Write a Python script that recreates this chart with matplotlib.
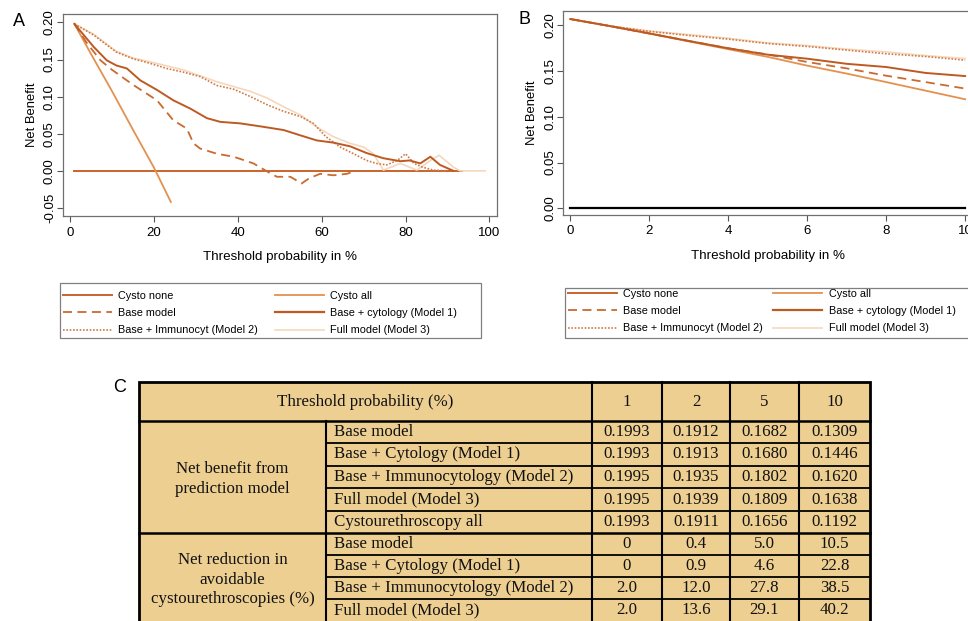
import numpy as np
import matplotlib.pyplot as plt
from matplotlib.patches import Rectangle

plt.rcParams['font.family'] = ['Liberation Sans', 'DejaVu Sans']

# ---- panel A data (threshold %, net benefit) ----
a_none_x = [1, 93.4]
a_none_y = [0.0, 0.0]
a_all_x = [1, 5, 10, 15, 20, 24]
a_all_y = [0.198, 0.157, 0.107, 0.055, 0.004, -0.042]
a_base_x = [1, 4, 7.2, 10, 15.1, 20.7, 24.6, 27.8, 29.4, 31, 35, 39, 43.7, 47, 49.3, 52.5,
            55.2, 57, 59.6, 62.8, 66, 68]
a_base_y = [0.198, 0.172, 0.149, 0.136, 0.1155, 0.095, 0.068, 0.057, 0.037, 0.030, 0.023,
            0.019, 0.010, -0.001, -0.008, -0.008, -0.017, -0.010, -0.004, -0.006, -0.004, 0.0]
a_m1_x = [1, 5.6, 8.7, 11, 13.5, 16.7, 20.7, 24.6, 28.6, 32.6, 35.8, 40.5, 45.3, 50.9, 54.8,
          58.8, 62.8, 66.8, 70.7, 74.7, 78.7, 81, 83.5, 85.9, 88.2, 91.4]
a_m1_y = [0.198, 0.167, 0.149, 0.142, 0.138, 0.122, 0.109, 0.095, 0.084, 0.071, 0.066, 0.064,
          0.060, 0.055, 0.048, 0.041, 0.038, 0.033, 0.024, 0.017, 0.013, 0.014, 0.010, 0.019,
          0.008, 0.0]
a_m2_x = [1, 5.6, 11, 15, 19, 23, 27, 31, 35, 39, 43, 47, 51, 55, 58, 61, 64.4, 67.6, 70.7,
          73, 75.5, 78, 80, 82, 84, 86.6, 90]
a_m2_y = [0.198, 0.183, 0.160, 0.151, 0.145, 0.138, 0.133, 0.127, 0.115, 0.110, 0.100, 0.089,
          0.080, 0.073, 0.064, 0.046, 0.032, 0.023, 0.014, 0.010, 0.008, 0.014, 0.023, 0.010,
          0.005, 0.001, 0.0]
a_full_x = [1, 5.6, 11, 15, 19, 27, 35, 43, 47, 51, 55, 58.8, 62.8, 66.8, 70, 72.3, 74.7,
            78.7, 82.7, 85.9, 88, 91.4, 93, 99]
a_full_y = [0.198, 0.184, 0.161, 0.152, 0.147, 0.136, 0.120, 0.107, 0.098, 0.086, 0.075,
            0.059, 0.046, 0.037, 0.032, 0.023, 0.001, 0.010, 0.001, 0.014, 0.021, 0.005, 0.0, 0.0]

# ---- panel B data ----
b_x = [0, 1, 2, 3, 4, 5, 6, 7, 8, 9, 10]
b_none = [0, 0, 0, 0, 0, 0, 0, 0, 0, 0, 0]
b_all = [0.207, 0.1993, 0.1911, 0.1825, 0.174, 0.1656, 0.156, 0.1473, 0.138, 0.1286, 0.1192]
b_base = [0.207, 0.1993, 0.1912, 0.183, 0.175, 0.1682, 0.160, 0.153, 0.145, 0.138, 0.1309]
b_m1 = [0.207, 0.1993, 0.1913, 0.183, 0.175, 0.1680, 0.1636, 0.158, 0.1545, 0.148, 0.1446]
b_m2 = [0.207, 0.1995, 0.1935, 0.189, 0.185, 0.1802, 0.177, 0.173, 0.169, 0.166, 0.1620]
b_full = [0.207, 0.1995, 0.1939, 0.190, 0.186, 0.1809, 0.178, 0.174, 0.171, 0.167, 0.1638]

legend_labels = ['Cysto none', 'Base model', 'Base + Immunocyt (Model 2)',
                 'Cysto all', 'Base + cytology (Model 1)', 'Full model (Model 3)']

# ---- table data ----
thresholds = ['1', '2', '5', '10']
groups = ['Net benefit from\nprediction model',
          'Net reduction in\navoidable\ncystourethroscopies (%)']
row_labels = ['Base model', 'Base + Cytology (Model 1)', 'Base + Immunocytology (Model 2)',
              'Full model (Model 3)', 'Cystourethroscopy all',
              'Base model', 'Base + Cytology (Model 1)', 'Base + Immunocytology (Model 2)',
              'Full model (Model 3)']
row_values = [['0.1993', '0.1912', '0.1682', '0.1309'],
              ['0.1993', '0.1913', '0.1680', '0.1446'],
              ['0.1995', '0.1935', '0.1802', '0.1620'],
              ['0.1995', '0.1939', '0.1809', '0.1638'],
              ['0.1993', '0.1911', '0.1656', '0.1192'],
              ['0', '0.4', '5.0', '10.5'],
              ['0', '0.9', '4.6', '22.8'],
              ['2.0', '12.0', '27.8', '38.5'],
              ['2.0', '13.6', '29.1', '40.2']]

c_none = '#c8642c'
c_all = '#e3914f'
c_base = '#c96a32'
c_m1 = '#bd5a22'
c_m2 = '#d07a48'
c_full = '#f5d8bc'

fig = plt.figure(figsize=(9.68, 6.21), dpi=100)


def style_axes(ax):
    for s in ax.spines.values():
        s.set_color('#707070')
        s.set_linewidth(0.9)
    ax.tick_params(axis='both', labelsize=9.5, length=4, color='#555555', width=0.8)
    ax.tick_params(axis='y', labelrotation=90, pad=1.0)
    for lab in ax.get_yticklabels():
        lab.set_verticalalignment('center')
    ax.set_xlabel('Threshold probability in %', fontsize=9.6, labelpad=9)
    ax.set_ylabel('Net Benefit', fontsize=9.4, labelpad=4)


# panel A
axA = fig.add_axes([0.065, 0.652, 0.448, 0.325])
axA.plot(a_none_x, a_none_y, color=c_none, lw=1.4)
axA.plot(a_all_x, a_all_y, color=c_all, lw=1.3)
axA.plot(a_full_x, a_full_y, color=c_full, lw=1.2)
axA.plot(a_m2_x, a_m2_y, color=c_m2, lw=1.2, ls=(0, (1, 1)))
axA.plot(a_base_x, a_base_y, color=c_base, lw=1.3, ls=(0, (5, 3)))
axA.plot(a_m1_x, a_m1_y, color=c_m1, lw=1.4)
axA.set_xlim(-1.75, 101.7)
axA.set_ylim(-0.061, 0.211)
axA.set_xticks([0, 20, 40, 60, 80, 100])
axA.set_yticks([-0.05, 0.0, 0.05, 0.10, 0.15, 0.20])
axA.set_yticklabels(['-0.05', '0.00', '0.05', '0.10', '0.15', '0.20'])
style_axes(axA)

# panel B
axB = fig.add_axes([0.5816, 0.654, 0.4236, 0.328])
axB.plot(b_x, b_none, color='black', lw=1.6)
axB.plot(b_x, b_all, color=c_all, lw=1.3)
axB.plot(b_x, b_full, color=c_full, lw=1.2)
axB.plot(b_x, b_m2, color=c_m2, lw=1.2, ls=(0, (1, 1)))
axB.plot(b_x, b_base, color=c_base, lw=1.3, ls=(0, (5, 3)))
axB.plot(b_x, b_m1, color=c_m1, lw=1.4)
axB.set_xlim(-0.186, 10.2)
axB.set_ylim(-0.0073, 0.2156)
axB.set_xticks([0, 2, 4, 6, 8, 10])
axB.set_yticks([0.0, 0.05, 0.10, 0.15, 0.20])
axB.set_yticklabels(['0.00', '0.05', '0.10', '0.15', '0.20'])
style_axes(axB)

fig.text(19 / 968, 1 - 21 / 621, 'A', fontsize=13, ha='center', va='center')
fig.text(524 / 968, 1 - 20 / 621, 'B', fontsize=13, ha='center', va='center')
fig.text(120 / 968, 1 - 388 / 621, 'C', fontsize=13, ha='center', va='center')

# legends: frame drawn separately, entries placed by column spacing
leg_styles = [(c_none, '-', 1.4), (c_base, (0, (5, 3)), 1.3), (c_m2, (0, (1, 1)), 1.2),
              (c_all, '-', 1.3), (c_m1, '-', 1.6), (c_full, '-', 1.2)]
leg_boxes = [(60, 283, 421, 55), (565, 288, 445, 50)]
leg_starts = [(63, 291), (568, 289)]
leg_colsp = [1.55, 0.95]
for box, start, cs in zip(leg_boxes, leg_starts, leg_colsp):
    x0, y0, w, h = box
    fig.patches.append(Rectangle((x0 / 968, 1 - (y0 + h) / 621), w / 968, h / 621,
                                 transform=fig.transFigure, facecolor='none',
                                 edgecolor='#808080', lw=0.9))
    handles = [plt.Line2D([], [], color=c, ls=ls, lw=lw) for c, ls, lw in leg_styles]
    fig.legend(handles, legend_labels, ncol=2, loc='upper left', frameon=False,
               bbox_to_anchor=(start[0] / 968, 1 - start[1] / 621),
               fontsize=7.8, handlelength=4.5, handletextpad=0.6, labelspacing=0.66,
               borderpad=0, borderaxespad=0, columnspacing=cs)

# table C
axT = fig.add_axes([0, 0, 1, 1], zorder=-1)
axT.set_xlim(0, 968)
axT.set_ylim(621, 0)
axT.axis('off')
col_edges = [139, 326, 592, 662, 730, 799, 870]
row_edges = [382, 421, 443, 466, 488, 511, 533, 555, 577, 599, 622]
fill = '#eecf92'
tfont = dict(family=['Liberation Serif', 'DejaVu Serif'], fontsize=12.2, color='#111111')

axT.add_patch(Rectangle((col_edges[0], row_edges[0]), col_edges[-1] - col_edges[0],
                        row_edges[-1] - row_edges[0], facecolor=fill, edgecolor='black', lw=2))
# header
axT.plot([col_edges[0], col_edges[-1]], [row_edges[1]] * 2, color='black', lw=1.8)
axT.text((col_edges[0] + col_edges[2]) / 2, (row_edges[0] + row_edges[1]) / 2,
         'Threshold probability (%)', ha='center', va='center', **tfont)
for j, t in enumerate(thresholds):
    axT.text((col_edges[j + 2] + col_edges[j + 3]) / 2, (row_edges[0] + row_edges[1]) / 2,
             t, ha='center', va='center', **tfont)
for xe in col_edges[2:-1]:
    axT.plot([xe, xe], [row_edges[0], row_edges[-1]], color='black', lw=1.5)
axT.plot([col_edges[1], col_edges[1]], [row_edges[1], row_edges[-1]], color='black', lw=1.5)
# group cells
axT.text((col_edges[0] + col_edges[1]) / 2, (row_edges[1] + row_edges[6]) / 2 + 2, groups[0],
         ha='center', va='center', linespacing=1.3, **tfont)
axT.text((col_edges[0] + col_edges[1]) / 2, (row_edges[6] + row_edges[10]) / 2 + 2, groups[1],
         ha='center', va='center', linespacing=1.3, **tfont)
axT.plot([col_edges[0], col_edges[-1]], [row_edges[6]] * 2, color='black', lw=1.8)
for i in range(len(row_labels)):
    y0, y1 = row_edges[i + 1], row_edges[i + 2]
    if i + 2 < len(row_edges) - 1 and i + 2 != 6:
        axT.plot([col_edges[1], col_edges[-1]], [y1, y1], color='black', lw=1.3)
    yc = (y0 + y1) / 2
    axT.text(col_edges[1] + 8, yc, row_labels[i], ha='left', va='center', **tfont)
    for j, v in enumerate(row_values[i]):
        axT.text((col_edges[j + 2] + col_edges[j + 3]) / 2, yc, v, ha='center',
                 va='center', **tfont)

fig.savefig('out.png', dpi=100)
